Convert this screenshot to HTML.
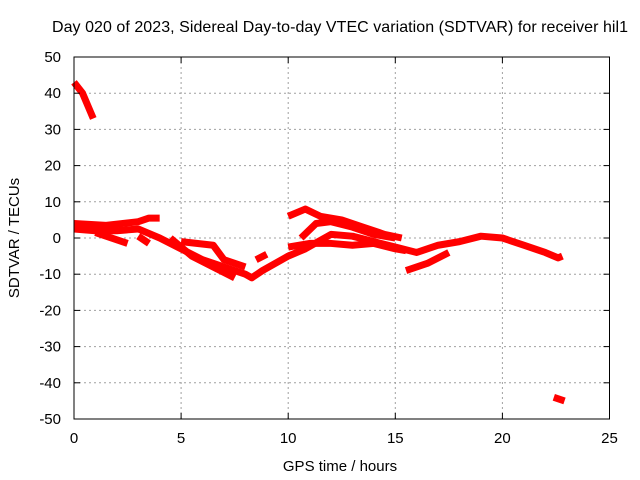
<!DOCTYPE html>
<html><head><meta charset="utf-8"><style>
body{margin:0;background:#fff}
svg{display:block;font-family:"Liberation Sans",sans-serif}
</style></head><body>
<svg width="640" height="480">
<g id="grid"></g>
<g id="series"></g>
<rect x="74" y="57" width="535.5" height="362" fill="none" stroke="#000" stroke-width="1"/>
<g id="ticks"></g>
<text x="340" y="32" text-anchor="middle" font-size="16" textLength="576">Day 020 of 2023, Sidereal Day-to-day VTEC variation (SDTVAR) for receiver hil1</text>
<text x="340" y="471" text-anchor="middle" font-size="15">GPS time / hours</text>
<text x="19" y="238" text-anchor="middle" font-size="15" transform="rotate(-90 19 238)">SDTVAR / TECUs</text>
</svg>
<script>
const xTicks=[0,5,10,15,20,25];
const yTicks=[-50,-40,-30,-20,-10,0,10,20,30,40,50];
const trackA=[[0,43],[0.4,40],[0.9,33]];
const trackB=[[0,4],[1.5,3.5],[3,4.5],[3.5,5.5],[4,5.5]];
const trackC=[[0,2.5],[1,2],[2,2],[3,2.5],[4,0],[5,-3],[6,-6],[7,-8],[8,-10],[8.3,-11],[8.8,-9],[10,-5],[10.8,-3],[12,1],[13,0.5],[14,-1],[15,-2.5],[16,-4],[17,-2],[18,-1],[19,0.5],[20,0],[21,-2],[22,-4],[22.6,-5.5],[22.8,-5]];
const trackD=[[10,-2.5],[11,-1.5],[12,-1.5],[13,-2],[14,-1.5],[15,-3],[15.5,-3.5]];
const trackE=[[10,6],[10.8,8],[11.5,6],[12.5,5],[13.5,3],[14.5,1],[15.3,0]];
const trackF=[[10.6,0],[11.3,4],[12,4.5],[13,3],[14,1],[15,0]];
const trackG=[[15.5,-9],[16.5,-7],[17.5,-4]];
const trackH=[[1,1.5],[2.5,-1.5]];
const trackI=[[3,0.5],[3.5,-1.5]];
const trackJ=[[4.5,0],[5.5,-5],[7.5,-11]];
const trackK=[[5,-1],[6.5,-2],[7,-6],[8,-8]];
const trackL=[[8.5,-6],[9,-4.5]];
const trackM=[[22.4,-44],[22.9,-45]];
const tracks=[trackA,trackB,trackC,trackD,trackE,trackF,trackG,trackH,trackI,trackJ,trackK,trackL,trackM];
const X=h=>74+h*(535.5/25);
const Y=v=>238-v*3.62;
const NS="http://www.w3.org/2000/svg";
const grid=document.getElementById('grid'),tk=document.getElementById('ticks'),se=document.getElementById('series');
function mk(t,a,p){const e=document.createElementNS(NS,t);for(const k in a)e.setAttribute(k,a[k]);p.appendChild(e);return e;}
xTicks.forEach(t=>{
 const x=X(t);
 if(t>0&&t<25){const l=mk('line',{x1:x,x2:x,y1:57,y2:419,stroke:'#a0a0a0','stroke-dasharray':'2,3'},grid);
 
 }
 const tx=mk('text',{x:x,y:443,'text-anchor':'middle','font-size':'15'},tk);tx.textContent=t;
 
 
 mk('line',{x1:x,x2:x,y1:419,y2:413,stroke:'#000'},tk);mk('line',{x1:x,x2:x,y1:57,y2:63,stroke:'#000'},tk);
});
yTicks.forEach(t=>{
 const y=Y(t);
 if(t>-50&&t<50){const l=mk('line',{x1:74,x2:609.5,y1:y,y2:y,stroke:'#a0a0a0','stroke-dasharray':'2,3'},grid);
 
 }
 const tx=mk('text',{x:61,y:y+5,'text-anchor':'end','font-size':'15'},tk);tx.textContent=t;
 
 
 mk('line',{x1:74,x2:80,y1:y,y2:y,stroke:'#000'},tk);mk('line',{x1:609.5,x2:603.5,y1:y,y2:y,stroke:'#000'},tk);
});
tracks.forEach(tr=>{
 const p=mk('polyline',{points:tr.map(d=>X(d[0])+','+Y(d[1])).join(' '),fill:'none',stroke:'#ff0000','stroke-width':7,'stroke-linejoin':'round','stroke-linecap':'butt'},se);
 
 
});
</script>
</body></html>
